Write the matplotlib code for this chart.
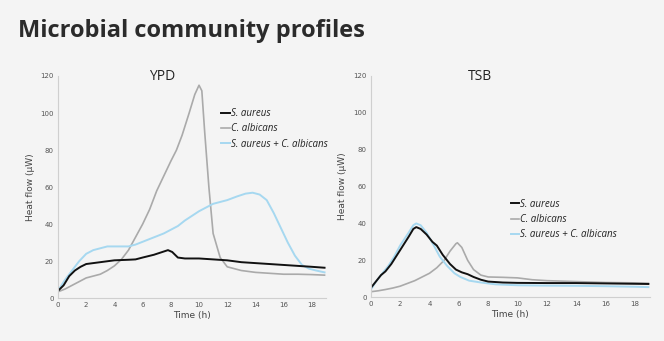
import matplotlib
matplotlib.use("Agg")
import matplotlib.pyplot as plt
import numpy as np

# ---- data ----
ypd_sa_t = [0, 0.4, 0.8, 1.2, 1.6, 2, 3, 4, 5, 5.5, 6, 6.8, 7.4, 7.8, 8.1, 8.5, 9, 10, 11, 12, 13, 14, 15, 16, 17, 18, 18.9]
ypd_sa_y = [4, 7, 12, 15, 17, 18.5, 19.5, 20.5, 20.8, 21, 22, 23.5, 25, 26, 25, 22, 21.5, 21.5, 21, 20.5, 19.5, 19, 18.5, 18, 17.5, 17, 16.5]
ypd_ca_t = [0, 0.5, 1, 1.5, 2, 2.5, 3, 3.5, 4, 4.5, 5, 5.5, 6, 6.5, 7, 7.5, 8, 8.4, 8.8, 9.3, 9.7, 10, 10.2, 10.4, 10.7, 11, 11.5, 12, 13, 14, 15, 16, 17, 18, 18.9]
ypd_ca_y = [3.5, 5, 7, 9, 11, 12, 13, 15, 17.5, 21, 26, 33, 40, 48, 58, 66, 74, 80, 88, 100, 110, 115, 112, 90, 60, 35, 22, 17, 15, 14, 13.5, 13, 13, 12.8, 12.5]
ypd_mix_t = [0, 0.5, 1, 1.5, 2, 2.5, 3, 3.5, 4, 5, 5.5, 6, 6.5, 7, 7.5, 8, 8.5, 9, 9.5, 10, 10.5, 11, 12, 12.7, 13.3, 13.8, 14.3, 14.8, 15.3, 15.8, 16.3, 16.8, 17.3, 17.8, 18.3, 18.9]
ypd_mix_y = [4, 10, 15, 20, 24, 26, 27, 28, 28, 28, 29, 30.5, 32, 33.5, 35, 37, 39, 42, 44.5, 47, 49, 51, 53, 55, 56.5, 57, 56, 53, 46, 38, 30, 23, 18, 16, 15, 14]

tsb_sa_t = [0, 0.3, 0.7, 1, 1.4, 1.8, 2.2, 2.6, 2.9, 3.1, 3.4, 3.8, 4.2, 4.5, 4.9, 5.4, 5.8, 6.2, 6.6, 7, 7.5, 8, 9, 10, 12, 14, 16, 18, 18.9]
tsb_sa_y = [5, 8, 12, 14, 18, 23, 28, 33, 37, 38, 37, 34, 30, 28, 23, 18, 15, 13.5, 12.5, 11, 9.5, 8.5, 8, 7.8, 7.7, 7.7, 7.5, 7.3, 7.2]
tsb_ca_t = [0, 0.5, 1, 1.5, 2, 2.5, 3, 3.5, 4, 4.5, 5, 5.4, 5.8, 5.9, 6.2, 6.6, 7, 7.5, 8, 9, 10, 11, 12, 14, 16, 18, 18.9]
tsb_ca_y = [3, 3.5, 4.2, 5, 6, 7.5, 9, 11, 13, 16, 20, 25, 29, 29.5, 27, 20, 15, 12, 11, 10.8, 10.5, 9.5, 9, 8.5, 8, 7.8, 7.6]
tsb_mix_t = [0, 0.4, 0.8, 1.2, 1.6, 2, 2.5, 2.9, 3.1, 3.4, 3.8, 4.3, 4.7, 5.2, 5.7, 6.1, 6.7, 7.5, 8.5, 10, 12, 14, 16, 18, 18.9]
tsb_mix_y = [4, 9, 13, 17, 22, 28, 34, 39, 40, 39, 35, 28, 22, 17, 13, 11, 9, 8, 7, 6.5, 6.3, 6.2, 6, 5.7, 5.5]

series_labels = ["S. aureus", "C. albicans", "S. aureus + C. albicans"]
panel_titles = ["YPD", "TSB"]
xticks = [0, 2, 4, 6, 8, 10, 12, 14, 16, 18]
yticks = [0, 20, 40, 60, 80, 100, 120]

BG = "#f4f4f4"
colors = ["#111111", "#aaaaaa", "#a6d8f0"]
widths = [1.4, 1.2, 1.4]

fig = plt.figure(figsize=(6.64, 3.41), dpi=100, facecolor=BG)
fig.text(18/664, 1 - 37/341, "Microbial community profiles", fontsize=17,
         fontweight="bold", color="#2b2b2b",
         family=["Liberation Sans Narrow", "Open Sans", "DejaVu Sans"])

axes_rects = [[0.0873, 0.1252, 0.4036, 0.652], [0.5583, 0.1282, 0.4204, 0.650]]
data = [
    [(ypd_sa_t, ypd_sa_y), (ypd_ca_t, ypd_ca_y), (ypd_mix_t, ypd_mix_y)],
    [(tsb_sa_t, tsb_sa_y), (tsb_ca_t, tsb_ca_y), (tsb_mix_t, tsb_mix_y)],
]
legend_locs = [(0.575, 0.895), (0.47, 0.485)]
title_x = [0.39, 0.39]

for i, rect in enumerate(axes_rects):
    ax = fig.add_axes(rect)
    ax.set_facecolor(BG)
    order = [1, 2, 0]
    handles = {}
    for k in order:
        t, y = data[i][k]
        (h,) = ax.plot(t, y, color=colors[k], lw=widths[k], label=series_labels[k])
        handles[k] = h
    ax.set_xlim(0, 19)
    ax.set_ylim(0, 120)
    ax.set_xticks(xticks)
    ax.set_yticks(yticks)
    ax.tick_params(axis="both", length=0, labelsize=5, labelcolor="#555555", pad=3)
    for s in ["top", "right"]:
        ax.spines[s].set_visible(False)
    for s in ["left", "bottom"]:
        ax.spines[s].set_color("#cfcfcf")
        ax.spines[s].set_linewidth(0.8)
    ax.set_xlabel("Time (h)", fontsize=6.5, color="#444444", labelpad=2)
    ax.set_ylabel("Heat flow (\u03bcW)", fontsize=6.5, color="#444444", labelpad=4)
    ax.text(title_x[i], 1.03, panel_titles[i], transform=ax.transAxes,
            ha="center", va="top", fontsize=10, color="#222222", family="Open Sans")
    leg = ax.legend([handles[0], handles[1], handles[2]], series_labels,
                    loc="upper left", bbox_to_anchor=legend_locs[i], frameon=False,
                    handlelength=0.9, handletextpad=0.1, labelspacing=0.45,
                    prop={"size": 7, "style": "italic", "family": "Open Sans"})
    for txt in leg.get_texts():
        txt.set_color("#222222")

fig.savefig("out.png", dpi=100, facecolor=BG)
